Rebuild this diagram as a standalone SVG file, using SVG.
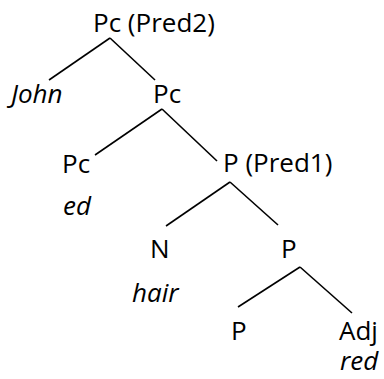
<svg xmlns="http://www.w3.org/2000/svg" width="384" height="379" viewBox="0 0 384 379">
<style>
  text { font-family: "Open Sans", "Liberation Sans", sans-serif; font-size: 26px; fill: #000; }
  .it { font-style: italic; }
  .edge { stroke: #000; stroke-width: 1.6; fill: none; }
</style>
<rect width="384" height="379" fill="#fff"/>
<g id="connectors">
  <line class="edge" x1="110" y1="38" x2="49" y2="80"/>
  <line class="edge" x1="110" y1="38" x2="155" y2="80"/>
  <line class="edge" x1="162" y1="109" x2="95" y2="155"/>
  <line class="edge" x1="162" y1="109" x2="217" y2="161"/>
  <line class="edge" x1="230" y1="182" x2="166" y2="226"/>
  <line class="edge" x1="230" y1="182" x2="278" y2="225"/>
  <line class="edge" x1="300" y1="267" x2="238" y2="307"/>
  <line class="edge" x1="300" y1="267" x2="352" y2="313"/>
</g>
<g id="node-root"><text x="93" y="32">Pc (Pred2)</text></g>
<g id="node-john"><text class="it" x="11" y="103">John</text></g>
<g id="node-pc1"><text x="153" y="103">Pc</text></g>
<g id="node-pc2"><text x="62" y="173">Pc</text><text class="it" x="63" y="215">ed</text></g>
<g id="node-pred1"><text x="223" y="172">P (Pred1)</text></g>
<g id="node-n"><text x="150" y="258">N</text><text class="it" x="132" y="302">hair</text></g>
<g id="node-p1"><text x="281" y="258">P</text></g>
<g id="node-p2"><text x="231" y="340">P</text></g>
<g id="node-adj"><text x="339" y="340">Adj</text><text class="it" x="340" y="370">red</text></g>
</svg>
